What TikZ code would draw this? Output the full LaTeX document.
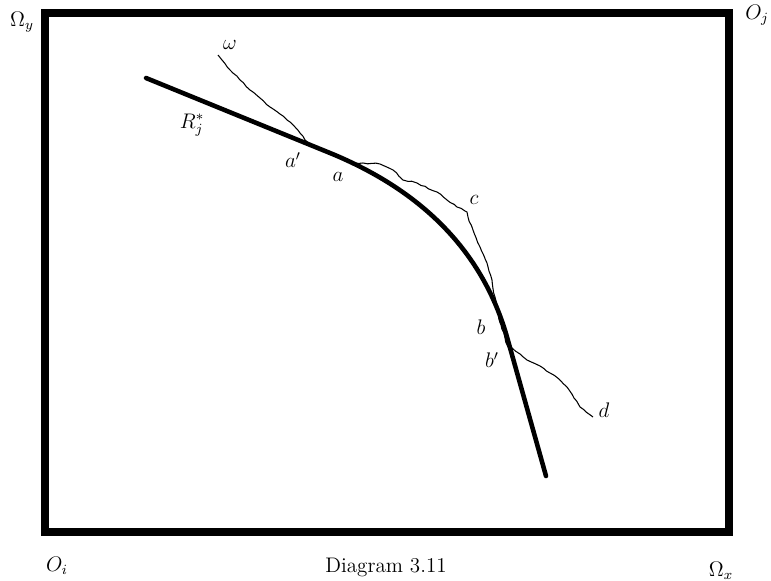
\documentclass[tikz,border=0pt]{standalone}
\usepackage{tikz}
\usetikzlibrary{decorations.pathmorphing}

\begin{document}
\begin{tikzpicture}
[
	x=0.02cm,
	y=-0.02cm,
	lbl/.style={inner sep=1pt,font=\large},
	frameline/.style={line width=4.5pt},
	contract/.style={line width=2.6pt,line cap=round,line join=round},
	pathline/.style={line width=0.6pt,line join=round,
	  decorate,decoration={random steps,segment length=2.5pt,amplitude=0.35pt}}
]

	\pgfmathsetseed{7}
	\useasboundingbox (0,0) rectangle (771,581);

	% box
	\draw[frameline] (45,13) rectangle (729,532);

	% corners
	\node[lbl] (omy) at (22,22) {$\Omega_y$};
	\node[lbl] (oj) at (757,15) {$O_j$};
	\node[lbl] (oi) at (57,566) {$O_i$};
	\node[lbl] (omx) at (721,571) {$\Omega_x$};
	\node[lbl] (caption) at (386,567) {Diagram 3.11};

	% contract curve
	\draw[contract] (146,78) -- (330,153)
	  .. controls (424,191.5) and (483,253) .. (507,337) -- (546,476);

	% path from omega
	\draw[pathline] plot coordinates
	  {(218,55) (222,60) (230,70) (240,80) (250,90) (260,98) (270,107)
	   (280,114) (287,120) (295,127) (300,133) (305,140) (310,144)
	   (330,153) (347,161) (353,163) (363,163) (380,164) (393,170)
	   (403,180) (417,183) (437,192) (447,200) (457,207) (467,212)
	   (468,217) (473,230) (480,247) (487,263) (492,280) (495,297)
	   (497,310) (501,325) (505,338) (508,347) (512,348) (520,354)
	   (527,360) (540,366) (550,373) (560,380) (567,387) (574,398)
	   (580,407) (586,412) (593,417)};

	% labels
	\node[lbl] (omega) at (230,45) {$\omega$};
	\node[lbl] (rj) at (192,125) {$R_j^*$};
	\node[lbl] (a1) at (293,160) {$a'$};
	\node[lbl] (a) at (338,177) {$a$};
	\node[lbl] (c) at (474,200) {$c$};
	\node[lbl] (b) at (481,327) {$b$};
	\node[lbl] (b1) at (492,360) {$b'$};
	\node[lbl] (d) at (604,410) {$d$};

\end{tikzpicture}
\end{document}
